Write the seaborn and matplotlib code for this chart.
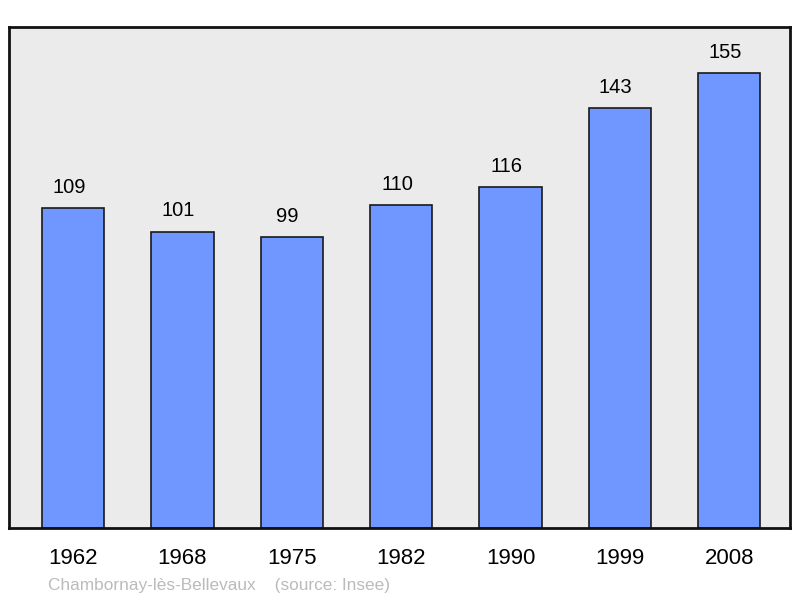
import matplotlib
matplotlib.use('Agg')
import matplotlib.pyplot as plt
import seaborn as sns
import pandas as pd

# datos de población
annees = ['1962', '1968', '1975', '1982', '1990', '1999', '2008']
population = [109, 101, 99, 110, 116, 143, 155]

df = pd.DataFrame({'Annee': annees, 'Population': population})

sns.set_style('white')
plt.rcParams['font.family'] = ['Liberation Sans', 'DejaVu Sans']

fig = plt.figure(figsize=(8, 5.98), dpi=100)
ax = fig.add_axes([0.01125, 0.117, 0.97625, 0.838])
ax.set_facecolor('#ebebeb')

sns.barplot(data=df, x='Annee', y='Population', color='#7097ff', saturation=1,
            width=0.57, edgecolor='#1a1a1a', linewidth=1.2, ax=ax)

# etiquetas encima de cada barra (un poco a la izquierda como en el original)
for i, v in enumerate(population):
    ax.annotate(str(v), (i, v), xytext=(-3, 11), textcoords='offset points',
                ha='center', va='baseline', fontsize=14.5, color='black')

ax.set_xlim(-0.585, 6.555)
ax.set_ylim(0, 170.7)
ax.set_xlabel('')
ax.set_ylabel('')
ax.set_yticks([])
ax.tick_params(axis='x', length=0, labelsize=16, pad=14.5, labelcolor='black')
for s in ax.spines.values():
    s.set_linewidth(2)
    s.set_color('#111111')

fig.text(0.06, 0.0134, 'Chambornay-lès-Bellevaux    (source: Insee)',
         fontsize=12.4, color='#bbbbbb', ha='left', va='baseline')

plt.savefig('out.png', dpi=100)
